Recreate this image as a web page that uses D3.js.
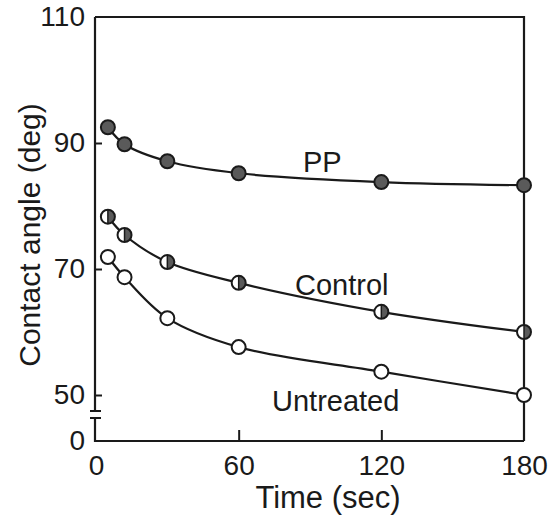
<!DOCTYPE html>
<html>
<head>
<meta charset="utf-8">
<script src="https://cdn.jsdelivr.net/npm/d3@7"></script>
<style>
  body { margin: 0; background: #fff; }
  svg text { font-family: "Liberation Sans", Arial, sans-serif; fill: #1a1a1a; }
</style>
</head>
<body>
<div id="chart"></div>
<script>
// contact angle vs time, three treatments
const times = [5, 12, 30, 60, 120, 180];
const ppValues = [92.5, 89.8, 87.1, 85.2, 83.8, 83.3];
const controlValues = [78.3, 75.4, 71.1, 67.8, 63.2, 60.0];
const untreatedValues = [71.9, 68.7, 62.2, 57.6, 53.7, 50.0];

const xTicks = [0, 60, 120, 180];
const yTicks = [0, 50, 70, 90, 110];
const seriesNames = ["PP", "Control", "Untreated"];

const W = 558, H = 524;
const ink = "#1a1a1a";

const svg = d3.select("#chart").append("svg")
    .attr("width", W).attr("height", H);

const x = d3.scaleLinear().domain([0, 180]).range([96, 524]);
// broken axis: 0..50 squeezed, 50..110 linear
const y = d3.scaleLinear().domain([0, 50, 110]).range([441, 395, 17]);

// frame (top + right)
svg.append("path")
    .attr("d", `M95,17 H524 V441`)
    .attr("fill", "none").attr("stroke", ink).attr("stroke-width", 2.2);

// x axis
const xAxis = svg.append("g").attr("transform", "translate(0,441)")
    .call(d3.axisBottom(x).tickValues(xTicks).tickSizeInner(-11).tickSizeOuter(0).tickPadding(14));
xAxis.select(".domain").attr("d", "M95,0 H524").attr("stroke", ink).attr("stroke-width", 2.2);
xAxis.selectAll(".tick line").attr("stroke", ink).attr("stroke-width", 2)
    .style("display", d => (d === 0 || d === 180) ? "none" : null);
xAxis.selectAll(".tick text").attr("font-size", 28).attr("dy", "0.71em")
    .attr("fill", ink).style("font-family", "Liberation Sans, Arial, sans-serif");

// y axis, with a break between 0 and 50
const yAxis = svg.append("g").attr("transform", "translate(95,0)")
    .call(d3.axisLeft(y).tickValues(yTicks).tickSizeInner(-7).tickSizeOuter(0).tickPadding(10));
yAxis.select(".domain").remove();
yAxis.selectAll(".tick line").attr("stroke", ink).attr("stroke-width", 2)
    .style("display", d => (d === 0 || d === 110) ? "none" : null);
yAxis.selectAll(".tick text").attr("font-size", 28).attr("fill", ink)
    .style("font-family", "Liberation Sans, Arial, sans-serif");

svg.append("path")
    .attr("d", "M95,17 V411 M90,411 H101 M90,418 H101 M95,418 V442")
    .attr("fill", "none").attr("stroke", ink).attr("stroke-width", 2.2);

// curves
const line = d3.line()
    .x((d, i) => x(times[i]))
    .y(d => y(d))
    .curve(d3.curveCatmullRom.alpha(0.5));

const series = [ppValues, controlValues, untreatedValues];
svg.append("g").selectAll("path").data(series).join("path")
    .attr("d", line)
    .attr("fill", "none").attr("stroke", ink).attr("stroke-width", 2.2);

const r = 7;
// PP: filled
svg.append("g").selectAll("circle").data(ppValues).join("circle")
    .attr("cx", (d, i) => x(times[i])).attr("cy", d => y(d)).attr("r", r)
    .attr("fill", "#5a5a5a").attr("stroke", ink).attr("stroke-width", 2);

// Control: half filled
const half = svg.append("g").selectAll("g").data(controlValues).join("g")
    .attr("transform", (d, i) => `translate(${x(times[i])},${y(d)})`);
half.append("circle").attr("r", r).attr("fill", "#fff");
half.append("path")
    .attr("d", `M0,${-r} A${r},${r} 0 0,1 0,${r} Z`)
    .attr("fill", "#5a5a5a");
half.append("circle").attr("r", r).attr("fill", "none")
    .attr("stroke", ink).attr("stroke-width", 2);
half.append("line").attr("y1", -r).attr("y2", r)
    .attr("stroke", ink).attr("stroke-width", 1.5);

// Untreated: open
svg.append("g").selectAll("circle").data(untreatedValues).join("circle")
    .attr("cx", (d, i) => x(times[i])).attr("cy", d => y(d)).attr("r", r)
    .attr("fill", "#fff").attr("stroke", ink).attr("stroke-width", 2);

// series labels
const labelPos = [[303, 172], [295, 295], [272, 411]];
svg.append("g").selectAll("text").data(seriesNames).join("text")
    .attr("x", (d, i) => labelPos[i][0]).attr("y", (d, i) => labelPos[i][1])
    .attr("font-size", 29)
    .text(d => d);

// axis titles
svg.append("text")
    .attr("x", 328).attr("y", 508)
    .attr("text-anchor", "middle").attr("font-size", 31)
    .text("Time (sec)");

svg.append("text")
    .attr("transform", "translate(40,235) rotate(-90)")
    .attr("text-anchor", "middle").attr("font-size", 30)
    .text("Contact angle (deg)");
</script>
</body>
</html>
